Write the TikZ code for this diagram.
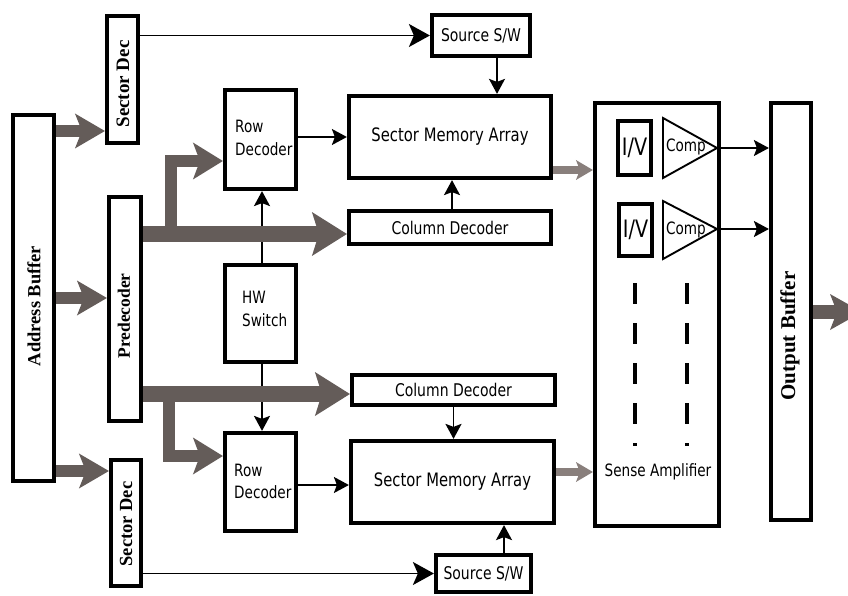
\documentclass[tikz,border=0pt]{standalone}
\usepackage{fontspec}
\setmainfont[FakeStretch=0.8]{DejaVu Sans}
\newfontfamily\serifbf{Liberation Serif}
\usetikzlibrary{arrows.meta}
\definecolor{busgrey}{RGB}{100,92,89}
\definecolor{lightgrey}{RGB}{137,127,124}
\begin{document}
\begin{tikzpicture}[x=1pt,y=-1pt,
  box/.style={draw, line width=3.7pt, inner sep=0pt, font=\fontsize{17.5}{20}\selectfont},
  lbl/.style={inner sep=0pt, font=\fontsize{17}{23}\selectfont},
  vlab/.style={inner sep=0pt, rotate=90},
  thinarr/.style={draw, line width=1.9pt, -{Stealth[length=15pt,width=16pt,inset=3pt]}},
  longarr/.style={draw, line width=1.9pt, -{Stealth[length=21pt,width=23pt,inset=5pt]}},
  busarr/.style={color=busgrey, line width=16pt, -{Stealth[length=35pt,width=44pt,inset=7pt,line width=0pt]}},
  brarr/.style={color=busgrey, line width=12pt, line join=miter, -{Stealth[length=30pt,width=37pt,inset=7pt,line width=0pt]}},
  addrarr/.style={color=busgrey, line width=12pt, -{Stealth[length=30pt,width=35pt,inset=7pt,line width=0pt]}},
  outarr/.style={color=busgrey, line width=14pt, -{Stealth[length=32pt,width=36pt,inset=7pt,line width=0pt]}},
  lightarr/.style={color=lightgrey, line width=8pt, -{Stealth[length=17pt,width=20pt,inset=4pt,line width=0pt]}},
  dashline/.style={line width=4pt, dash pattern=on 21pt off 19pt},
  tri/.style={draw, line width=1.9pt, line join=miter}
]
\useasboundingbox (0,0) rectangle (848,596);
\clip (0,0) rectangle (848,596);

% boxes
\node[box, minimum width=41.5pt, minimum height=366.5pt] (addr) at (33.5,298) {};
\node[box, minimum width=31.5pt, minimum height=127.5pt] (secdecT) at (122.5,79.5) {};
\node[box, minimum width=32.5pt, minimum height=224.5pt] (pred) at (125,309) {};
\node[box, minimum width=30.5pt, minimum height=126.5pt] (secdecB) at (126,523) {};
\node[box, minimum width=71.5pt, minimum height=99.5pt] (rowT) at (260.5,139.5) {};
\node[box, minimum width=71.5pt, minimum height=97.5pt] (hw) at (260.5,313.5) {};
\node[box, minimum width=71.5pt, minimum height=98.5pt] (rowB) at (260.5,482) {};
\node[box, minimum width=98.5pt, minimum height=41.5pt] (srcT) at (481,35.5) {Source S/W};
\node[box, minimum width=202.5pt, minimum height=82.5pt, font=\fontsize{18.5}{20}\selectfont] (smaT) at (450,137) {Sector Memory Array};
\node[box, minimum width=202.5pt, minimum height=33.5pt] (colT) at (450,227.5) {Column Decoder};
\node[box, minimum width=203.5pt, minimum height=30.5pt] (colB) at (453.5,390) {Column Decoder};
\node[box, minimum width=203.5pt, minimum height=82.5pt, font=\fontsize{18.5}{20}\selectfont] (smaB) at (452.5,482) {Sector Memory Array};
\node[box, minimum width=95.5pt, minimum height=37.5pt] (srcB) at (483.5,573.5) {Source S/W};
\node[box, minimum width=124.5pt, minimum height=423.5pt] (sa) at (657,314.5) {};
\node[box, minimum width=40.5pt, minimum height=417.5pt] (ob) at (791,311.5) {};
\node[box, minimum width=33.5pt, minimum height=54.5pt, font=\fontsize{24}{26}\selectfont] (iv1) at (634.5,148) {I/V};
\node[box, minimum width=33.5pt, minimum height=52.5pt, font=\fontsize{24}{26}\selectfont] (iv2) at (635.5,230) {I/V};

% text labels
\node[vlab, font=\serifbf\bfseries\fontsize{18.5}{20}\selectfont] (addrl) at (34,306) {Address Buffer};
\node[vlab, font=\serifbf\bfseries\fontsize{19}{20}\selectfont] (secdecTl) at (123,84) {Sector Dec};
\node[vlab, font=\serifbf\bfseries\fontsize{17.5}{20}\selectfont] (predl) at (124,316) {Predecoder};
\node[vlab, font=\serifbf\bfseries\fontsize{18.5}{20}\selectfont] (secdecBl) at (126,524) {Sector Dec};
\node[vlab, font=\serifbf\bfseries\fontsize{21}{22}\selectfont] (obl) at (790,336) {Output Buffer};
\node[lbl, anchor=west, align=left] (rowTl) at (235,138) {Row\\Decoder};
\node[lbl, anchor=west, align=left] (hwl) at (242,309) {HW\\Switch};
\node[lbl, anchor=west, align=left, font=\fontsize{17}{22}\selectfont] (rowBl) at (234,481) {Row\\Decoder};
\node[lbl] (sal) at (658,472) {Sense Amplifier};

% comparators
\draw[tri] (663,118) -- (717,148) -- (663,178) -- cycle;
\draw[tri] (663,201) -- (717,229) -- (663,259) -- cycle;
\coordinate (cp1) at (717,148);
\coordinate (cp2) at (717,229);
\node[lbl, font=\fontsize{17}{18}\selectfont] (comp1) at (686,147) {Comp};
\node[lbl, font=\fontsize{17}{18}\selectfont] (comp2) at (686,230) {Comp};
\draw[thinarr] (cp1) -- (cp1 -| ob.west);
\draw[thinarr] (cp2) -- (cp2 -| ob.west);

% dashed lines
\draw[dashline] (635,283) -- (635,446);
\draw[dashline] (687,283) -- (687,446);

% thin black arrows
\draw[longarr] (secdecT.east |- srcT.west) -- (srcT.west);
\draw[thinarr] ([xshift=16pt]srcT.south) -- ([xshift=16pt]srcT.south |- smaT.north);
\draw[thinarr] (rowT.east |- smaT.west) -- (smaT.west);
\draw[thinarr] ([xshift=2pt]colT.north) -- ([xshift=2pt]colT.north |- smaT.south);
\draw[thinarr] ([xshift=1.5pt]hw.north) -- ([xshift=1.5pt]hw.north |- rowT.south);
\draw[thinarr] ([xshift=1.5pt]hw.south) -- ([xshift=1.5pt]hw.south |- rowB.north);
\draw[thinarr] (colB.south) -- (colB.south |- smaB.north);
\draw[thinarr] ([yshift=-3pt]rowB.east) -- ([yshift=-3pt]rowB.east -| smaB.west);
\draw[longarr] (secdecB.east |- srcB.west) -- (srcB.west);
\draw[thinarr] ([xshift=20.5pt]srcB.north) -- ([xshift=20.5pt]srcB.north |- smaB.south);

% grey arrows SMA -> sense amp
\draw[lightarr] ([yshift=-33pt]smaT.east) -- ([yshift=-33pt]smaT.east -| sa.west);
\draw[lightarr] ([yshift=10pt]smaB.east) -- ([yshift=10pt]smaB.east -| sa.west);

% address buffer arrows
\coordinate (a1) at (0,131);
\coordinate (a2) at (0,298);
\coordinate (a3) at (0,471);
\draw[addrarr] (addr.east |- a1) -- (secdecT.west |- a1);
\draw[addrarr] (addr.east |- a2) -- (pred.west |- a2);
\draw[addrarr] (addr.east |- a3) -- (secdecB.west |- a3);

% buses
\coordinate (busT) at (0,234);
\coordinate (busB) at (0,394);
\coordinate (brT) at (171,234);
\coordinate (brTc) at (171,161);
\coordinate (brB) at (169,394);
\coordinate (brBc) at (169,456);
\draw[busarr] (pred.east |- busT) -- (colT.west |- busT);
\draw[brarr] (brT) -- (brTc) -- (rowT.west |- brTc);
\draw[busarr] (pred.east |- busB) -- (colB.west |- busB);
\draw[brarr] (brB) -- (brBc) -- (rowB.west |- brBc);

% output
\coordinate (o1) at (862,312);
\draw[outarr] (ob.east |- o1) -- (o1);
\end{tikzpicture}
\end{document}
